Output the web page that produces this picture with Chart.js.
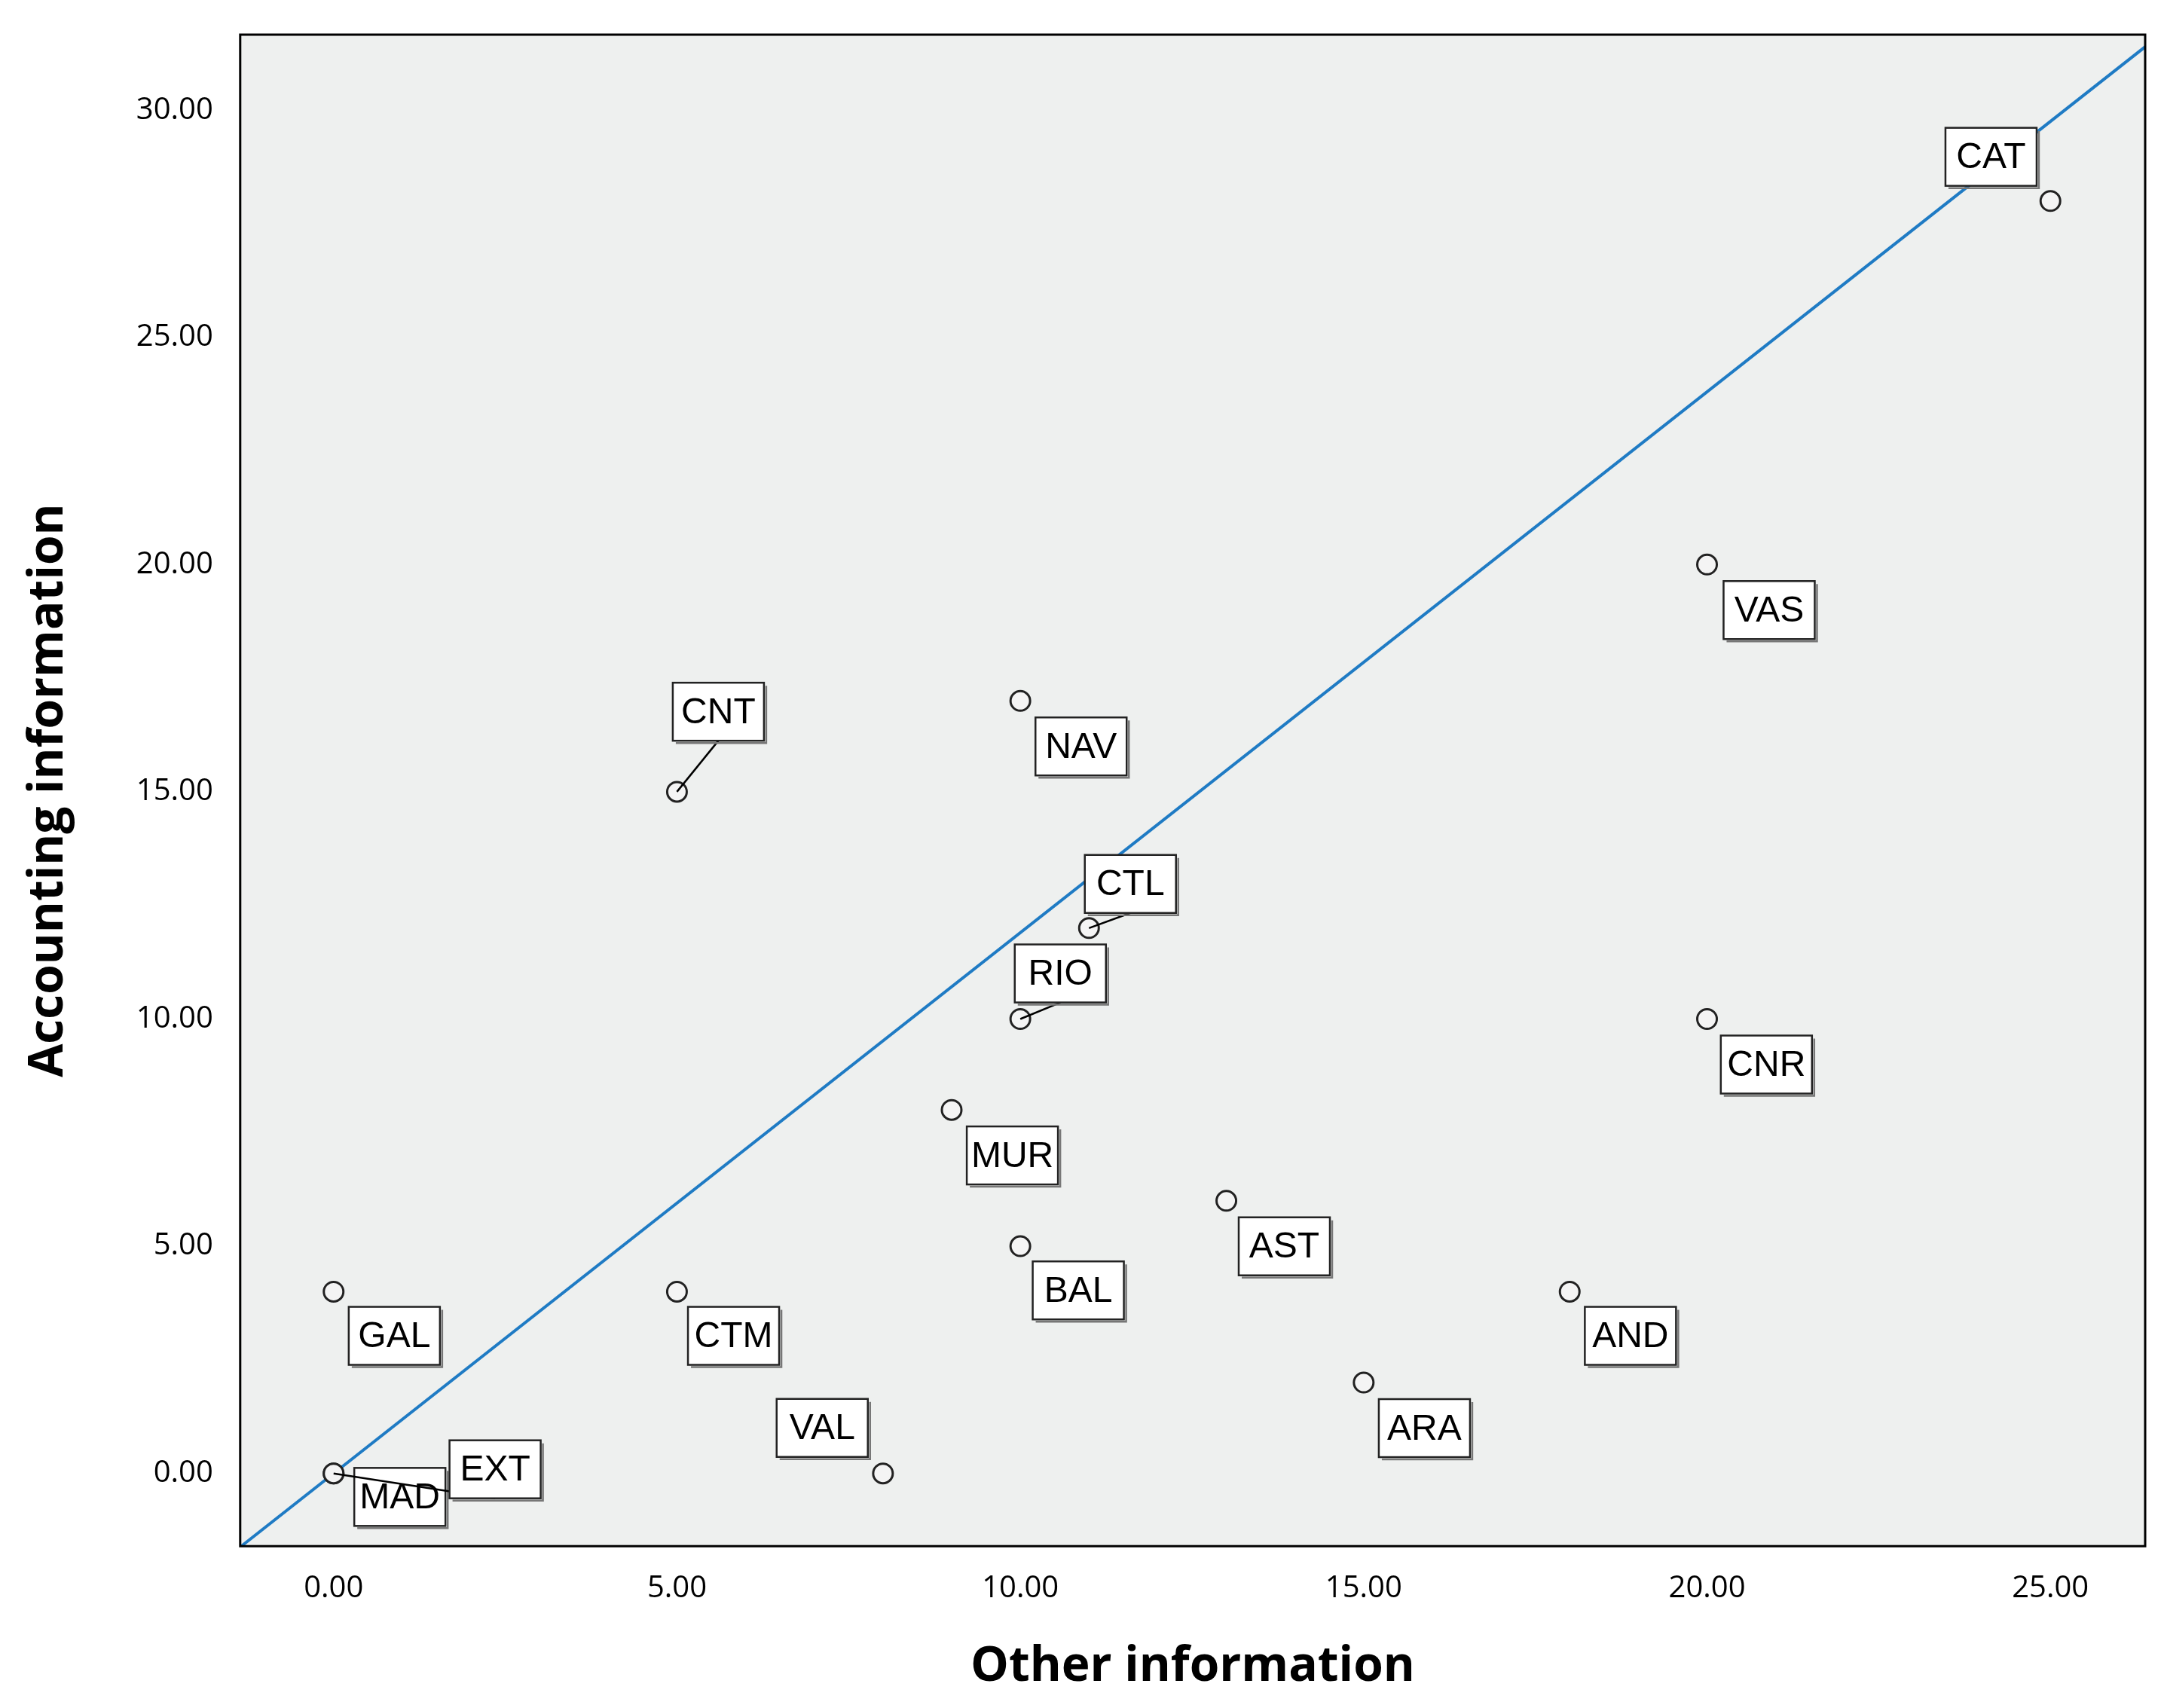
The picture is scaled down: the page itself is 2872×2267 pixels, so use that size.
<!DOCTYPE html>
<html>
<head>
<meta charset="utf-8">
<script src="https://cdn.jsdelivr.net/npm/chart.js@4/dist/chart.umd.min.js"></script>
<style>
  html, body { margin: 0; padding: 0; background: #fff; }
  #wrap { width: 2872px; height: 2267px; }
</style>
</head>
<body>
<div id="wrap"><canvas id="graph"></canvas></div>
<script>
// region codes and their scores
const regions = ["GAL", "MAD", "EXT", "CNT", "CTM", "VAL", "MUR", "NAV", "RIO", "BAL", "CTL", "AST", "ARA", "AND", "VAS", "CNR", "CAT"];
const otherInfo = [0, 0, 0, 5, 5, 8, 9, 10, 10, 10, 11, 13, 15, 18, 20, 20, 25];
const accountingInfo = [4, 0, 0, 15, 4, 0, 8, 17, 10, 5, 12, 6, 2, 4, 20, 10, 28];
const xTicks = [0, 5, 10, 15, 20, 25];
const yTicks = [0, 5, 10, 15, 20, 25, 30];
// fit line: y = 1.19x
const fitX = [-1.36, 26.4];
const fitY = fitX.map((x) => 1.19 * x);

// label box offsets (pixels) from each point, and whether a leader line is drawn
const S = 1.832;
const labelOffsets = {
  GAL: [44, 32], MAD: [48, 17], EXT: [117, -3, true], CNT: [30, -58, true],
  CTM: [41, 32], VAL: [-44, -33], MUR: [44, 33], NAV: [44, 33],
  RIO: [29, -33, true], BAL: [42, 32], CTL: [30, -32, true], AST: [42, 33],
  ARA: [44, 33], AND: [44, 32], VAS: [45, 33], CNR: [43, 33], CAT: [-43, -32],
};

const plotBg = {
  id: "plotBg",
  beforeDraw(chart) {
    const { ctx, chartArea: a } = chart;
    ctx.save();
    ctx.fillStyle = "#eef0ef";
    ctx.fillRect(a.left, a.top, a.width, a.height);
    ctx.restore();
  },
  afterDraw(chart) {
    const { ctx, chartArea: a } = chart;
    ctx.save();
    ctx.strokeStyle = "#000";
    ctx.lineWidth = 3;
    ctx.strokeRect(a.left, a.top, a.width, a.height);
    ctx.restore();
  },
};

const boxLabels = {
  id: "boxLabels",
  afterDatasetsDraw(chart) {
    const { ctx, scales } = chart;
    ctx.save();
    ctx.font = "48px 'Liberation Sans', Arial, sans-serif";
    ctx.textAlign = "center";
    ctx.textBaseline = "middle";
    regions.forEach((r, i) => {
      const px = scales.x.getPixelForValue(otherInfo[i]);
      const py = scales.y.getPixelForValue(accountingInfo[i]);
      const o = labelOffsets[r];
      const cx = px + o[0] * S, cy = py + o[1] * S;
      const w = 121, h = 77;
      if (o[2]) {
        ctx.strokeStyle = "#000";
        ctx.lineWidth = 2.5;
        ctx.beginPath();
        ctx.moveTo(px, py);
        ctx.lineTo(cx, cy + (o[1] < 0 ? h / 2 : 0));
        ctx.stroke();
      }
      ctx.fillStyle = "#fff";
      ctx.fillRect(cx - w / 2, cy - h / 2, w, h);
      ctx.strokeStyle = "#222";
      ctx.lineWidth = 2.5;
      ctx.strokeRect(cx - w / 2, cy - h / 2, w, h);
      ctx.strokeStyle = "#777";
      ctx.beginPath();
      ctx.moveTo(cx - w / 2 + 4, cy + h / 2 + 3);
      ctx.lineTo(cx + w / 2 + 3, cy + h / 2 + 3);
      ctx.lineTo(cx + w / 2 + 3, cy - h / 2 + 4);
      ctx.stroke();
      ctx.fillStyle = "#000";
      ctx.fillText(r, cx, cy + 2);
    });
    ctx.restore();
  },
};

const points = otherInfo.map((x, i) => ({ x: x, y: accountingInfo[i] }));
const tickFont = { size: 40, weight: "500", family: "'Open Sans', sans-serif" };

new Chart(document.getElementById("graph").getContext("2d"), {
  type: "scatter",
  data: {
    datasets: [
      {
        label: "Fit",
        type: "line",
        data: fitX.map((x, i) => ({ x: x, y: fitY[i] })),
        borderColor: "#1f7bc4",
        borderWidth: 4,
        pointRadius: 0,
        fill: false,
        order: 2,
      },
      {
        label: "Regions",
        data: points,
        pointRadius: 13,
        pointBackgroundColor: "#f4f4f4",
        pointBorderColor: "#222",
        pointBorderWidth: 3,
        order: 1,
      },
    ],
  },
  options: {
    responsive: true,
    maintainAspectRatio: false,
    animation: false,
    layout: { padding: { top: 12, right: 25, bottom: 12, left: 22 } },
    plugins: { legend: { display: false }, tooltip: { enabled: false } },
    scales: {
      x: {
        type: "linear",
        min: -1.36,
        max: 26.38,
        afterBuildTicks: (axis) => { axis.ticks = xTicks.map((v) => ({ value: v })); },
        grid: { display: false, drawTicks: true, tickLength: 14, tickColor: "#000" },
        border: { display: false },
        ticks: { color: "#000", font: tickFont, padding: 18, callback: (v) => v.toFixed(2) },
        title: {
          display: true,
          text: "Other information",
          color: "#000",
          font: { size: 64, weight: "bold", family: "'Open Sans', sans-serif" },
          padding: { top: 24 },
        },
      },
      y: {
        type: "linear",
        min: -1.6,
        max: 31.66,
        afterBuildTicks: (axis) => { axis.ticks = yTicks.map((v) => ({ value: v })); },
        grid: { display: false, drawTicks: true, tickLength: 14, tickColor: "#000" },
        border: { display: false },
        ticks: { color: "#000", font: tickFont, padding: 22, callback: (v) => v.toFixed(2) },
        title: {
          display: true,
          text: "Accounting information",
          color: "#000",
          font: { size: 64, weight: "bold", family: "'Open Sans', sans-serif" },
          padding: { bottom: 56 },
        },
      },
    },
  },
  plugins: [plotBg, boxLabels],
});
</script>
</body>
</html>
